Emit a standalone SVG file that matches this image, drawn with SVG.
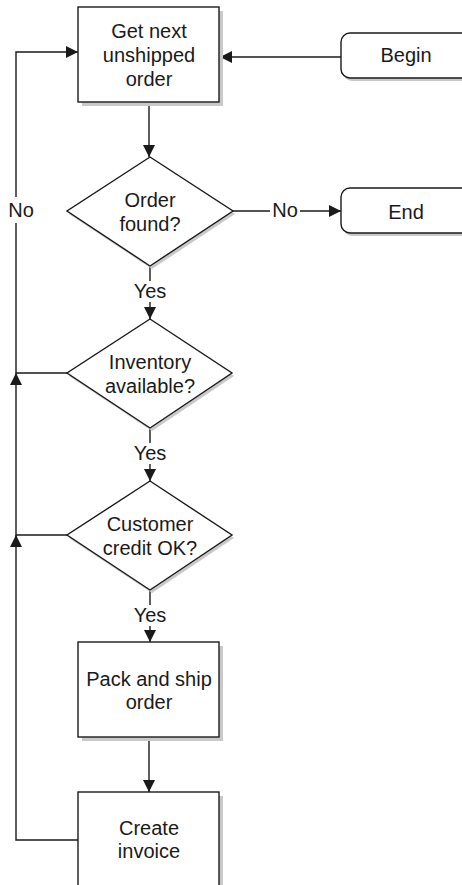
<svg xmlns="http://www.w3.org/2000/svg" width="462" height="885" viewBox="0 0 462 885">
<style>
.shape{fill:#fff;stroke:#1a1a1a;stroke-width:1.4}
.shadow{fill:#c9c9c9;stroke:none}
.line{fill:none;stroke:#1a1a1a;stroke-width:1.4}
text{font-family:"Liberation Sans",Arial,sans-serif;font-size:20px;fill:#1a1a1a;text-anchor:middle}
</style>
<defs>
<marker id="arr" markerUnits="userSpaceOnUse" markerWidth="12" markerHeight="12" viewBox="0 0 12 12" refX="12" refY="6" orient="auto">
<path d="M0,0 L12,6 L0,12 Z" fill="#1a1a1a"/>
</marker>
</defs>
<rect width="462" height="885" fill="#fff"/>
<g id="connectors">
<line class="line" x1="341" y1="57" x2="220" y2="57" marker-end="url(#arr)"/>
<line class="line" x1="149" y1="102" x2="149" y2="157" marker-end="url(#arr)"/>
<line class="line" x1="233" y1="211" x2="270" y2="211"/>
<line class="line" x1="300" y1="211" x2="341" y2="211" marker-end="url(#arr)"/>
<line class="line" x1="150" y1="266" x2="150" y2="281"/>
<line class="line" x1="150" y1="302" x2="150" y2="319" marker-end="url(#arr)"/>
<line class="line" x1="150" y1="428" x2="150" y2="443"/>
<line class="line" x1="150" y1="464" x2="150" y2="481" marker-end="url(#arr)"/>
<line class="line" x1="150" y1="590" x2="150" y2="605"/>
<line class="line" x1="150" y1="626" x2="150" y2="642" marker-end="url(#arr)"/>
<line class="line" x1="149" y1="737" x2="149" y2="792" marker-end="url(#arr)"/>
<polyline class="line" points="78,840 16,840 16,547"/>
<line class="line" x1="16" y1="547" x2="16" y2="535" marker-end="url(#arr)"/>
<polyline class="line" points="67,535 16,535 16,385"/>
<line class="line" x1="16" y1="385" x2="16" y2="373" marker-end="url(#arr)"/>
<polyline class="line" points="67,373 16,373 16,223"/>
<polyline class="line" points="16,197 16,52 66,52"/>
<line class="line" x1="66" y1="52" x2="78" y2="52" marker-end="url(#arr)"/>
<text x="21" y="217">No</text>
<text x="285" y="217">No</text>
<text x="150" y="298">Yes</text>
<text x="150" y="460">Yes</text>
<text x="150" y="622">Yes</text>
</g>
<g id="get-next">
<rect class="shadow" x="82" y="11" width="141" height="95"/>
<rect class="shape" x="78" y="7" width="141" height="95"/>
<text x="149" y="38">Get next</text>
<text x="149" y="62">unshipped</text>
<text x="149" y="86">order</text>
</g>
<g id="begin">
<rect class="shadow" x="343" y="36" width="140" height="45" rx="9"/>
<rect class="shape" x="341" y="33" width="140" height="45" rx="9"/>
<text x="406" y="62">Begin</text>
</g>
<g id="end">
<rect class="shadow" x="343" y="191" width="140" height="45" rx="9"/>
<rect class="shape" x="341" y="188" width="140" height="45" rx="9"/>
<text x="406" y="219">End</text>
</g>
<g id="order-found">
<polygon class="shadow" points="152,160 235,214 152,269 69,214"/>
<polygon class="shape" points="150,157 233,211 150,266 67,211"/>
<text x="150" y="207">Order</text>
<text x="150" y="231">found?</text>
</g>
<g id="inventory">
<polygon class="shadow" points="152,322 234,376 152,431 69,376"/>
<polygon class="shape" points="150,319 232,373 150,428 67,373"/>
<text x="150" y="369">Inventory</text>
<text x="150" y="393">available?</text>
</g>
<g id="credit">
<polygon class="shadow" points="152,484 234,538 152,593 69,538"/>
<polygon class="shape" points="150,481 232,535 150,590 67,535"/>
<text x="150" y="531">Customer</text>
<text x="150" y="555">credit OK?</text>
</g>
<g id="pack-ship">
<rect class="shadow" x="82" y="646" width="141" height="95"/>
<rect class="shape" x="78" y="642" width="141" height="95"/>
<text x="149" y="686">Pack and ship</text>
<text x="149" y="709">order</text>
</g>
<g id="invoice">
<rect class="shadow" x="82" y="796" width="141" height="100"/>
<rect class="shape" x="78" y="792" width="141" height="100"/>
<text x="149" y="835">Create</text>
<text x="149" y="858">invoice</text>
</g>
</svg>
